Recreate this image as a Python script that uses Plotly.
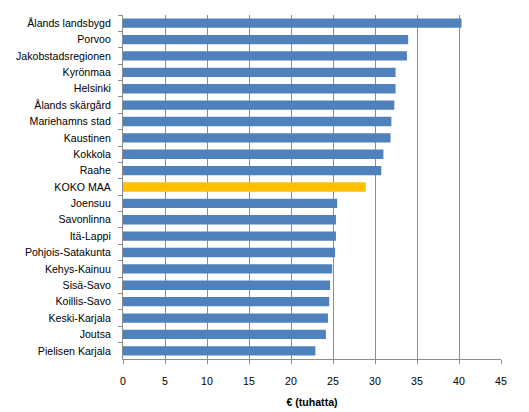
import plotly.graph_objects as go

# regions, top to bottom as in the chart
regions = ["Ålands landsbygd", "Porvoo", "Jakobstadsregionen", "Kyrönmaa", "Helsinki",
           "Ålands skärgård", "Mariehamns stad", "Kaustinen", "Kokkola", "Raahe",
           "KOKO MAA", "Joensuu", "Savonlinna", "Itä-Lappi", "Pohjois-Satakunta",
           "Kehys-Kainuu", "Sisä-Savo", "Koillis-Savo", "Keski-Karjala", "Joutsa",
           "Pielisen Karjala"]
values = [40.3, 33.95, 33.8, 32.45, 32.45,
          32.3, 31.95, 31.85, 31.0, 30.75,
          28.9, 25.5, 25.35, 25.35, 25.25,
          24.9, 24.65, 24.55, 24.4, 24.15,
          22.9]
x_ticks = [0, 5, 10, 15, 20, 25, 30, 35, 40, 45]

blue = "#4F81BD"
gold = "#FFC000"
colors = [gold if r == "KOKO MAA" else blue for r in regions]

grid = "#8C8C8C"

fig = go.Figure(go.Bar(
    x=values,
    y=regions,
    orientation="h",
    marker=dict(color=colors, line=dict(width=0)),
    hoverinfo="x+y",
))

fig.update_layout(
    width=529, height=412,
    margin=dict(l=123, r=28, t=15, b=53),
    paper_bgcolor="white", plot_bgcolor="white",
    font=dict(family="Liberation Sans", size=10.6, color="black"),
    bargap=0.43,
    showlegend=False,
    xaxis=dict(
        range=[0, 45], tickvals=x_ticks, showgrid=True, gridcolor=grid, gridwidth=1,
        showline=True, linecolor=grid, ticks="outside", ticklen=4, tickcolor=grid,
        zeroline=False, ticklabelstandoff=8, automargin=False,
        title=dict(text="<b>€ (tuhatta)</b>", font=dict(size=10.6), standoff=12),
    ),
    yaxis=dict(
        autorange="reversed", showgrid=False, showline=True, linecolor=grid,
        ticks="outside", ticklen=4, tickcolor=grid, tickson="boundaries",
        ticklabelstandoff=9, automargin=False,
    ),
)

# drop the browser's default 8px body margin so the figure fills the window
fig.write_html("out.html", config={"displayModeBar": False},
               post_script="document.body.style.margin = '0';")
